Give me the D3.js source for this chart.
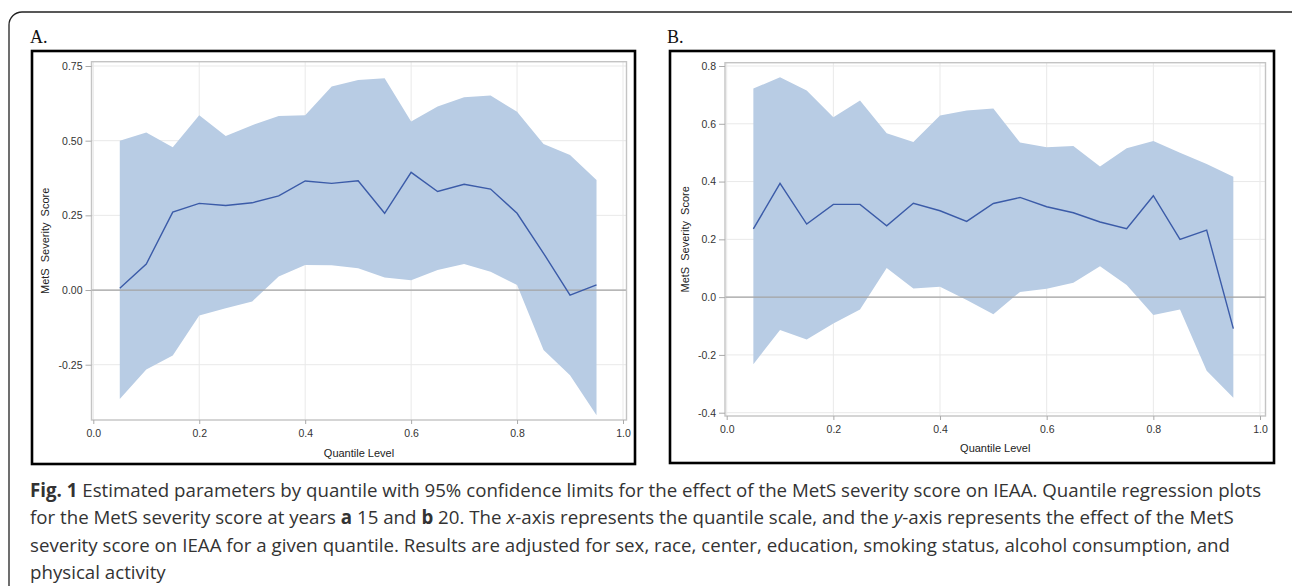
<!DOCTYPE html>
<html>
<head>
<meta charset="utf-8">
<script src="https://cdn.jsdelivr.net/npm/d3@7"></script>
<style>
  body { margin: 0; background: #fff; }
  svg { display: block; }
  .tick text { font-family: "Liberation Sans", Arial, sans-serif; font-size: 10.5px; fill: #333; }
  .axis-title { font-family: "Liberation Sans", Arial, sans-serif; font-size: 11px; fill: #222; white-space: pre; }
  .panel-label { font-family: "Liberation Serif", "Times New Roman", serif; font-size: 18px; fill: #111; }
  .caption { font-family: "Open Sans", sans-serif; font-size: 19px; fill: #333; }
</style>
</head>
<body>
<div id="chart"></div>
<script>
// quantile levels shared by both panels
var quantiles = [0.05, 0.10, 0.15, 0.20, 0.25, 0.30, 0.35, 0.40, 0.45, 0.50,
                 0.55, 0.60, 0.65, 0.70, 0.75, 0.80, 0.85, 0.90, 0.95];

// panel A (year 15)
var aEstimate = [0.006, 0.087, 0.261, 0.290, 0.283, 0.292, 0.315, 0.365, 0.357, 0.366,
                 0.257, 0.394, 0.330, 0.354, 0.338, 0.257, 0.123, -0.017, 0.017];
var aUpper    = [0.500, 0.527, 0.478, 0.585, 0.516, 0.552, 0.583, 0.585, 0.681, 0.703,
                 0.709, 0.564, 0.614, 0.645, 0.651, 0.597, 0.489, 0.452, 0.368];
var aLower    = [-0.365, -0.266, -0.219, -0.085, -0.061, -0.038, 0.045, 0.084, 0.083, 0.073,
                 0.042, 0.033, 0.067, 0.087, 0.061, 0.017, -0.201, -0.285, -0.419];

// panel B (year 20)
var bEstimate = [0.236, 0.394, 0.253, 0.321, 0.321, 0.247, 0.325, 0.299, 0.262, 0.324,
                 0.345, 0.313, 0.292, 0.260, 0.237, 0.351, 0.200, 0.232, -0.109];
var bUpper    = [0.722, 0.761, 0.715, 0.623, 0.681, 0.567, 0.537, 0.629, 0.646, 0.653,
                 0.535, 0.519, 0.523, 0.452, 0.515, 0.540, 0.500, 0.461, 0.417];
var bLower    = [-0.232, -0.114, -0.147, -0.091, -0.043, 0.101, 0.030, 0.036, -0.010, -0.059,
                 0.018, 0.029, 0.050, 0.107, 0.042, -0.062, -0.043, -0.255, -0.348];

var xTicks = [0, 0.2, 0.4, 0.6, 0.8, 1.0];
var aYTicks = [-0.25, 0, 0.25, 0.5, 0.75];
var bYTicks = [-0.4, -0.2, 0, 0.2, 0.4, 0.6, 0.8];

var width = 1292, height = 586;

// SAS prints a plain hyphen for negatives
function fmt(digits) {
    return function(d) { return d.toFixed(digits); };
}

var svg = d3.select("#chart").append("svg")
    .attr("width", width)
    .attr("height", height);

// outer rounded frame (runs off the right and bottom)
svg.append("rect")
    .attr("x", 9).attr("y", 12)
    .attr("width", 1300).attr("height", 620)
    .attr("rx", 13)
    .attr("fill", "none")
    .attr("stroke", "#222")
    .attr("stroke-width", 1.3);

var panels = [
    { label: "A.", lx: 30, box: [32, 51, 603, 413],
      xr: [93.3, 623], fx: [91.5, 626.5],
      yd: [-0.25, 0.75], yr: [364.7, 66], fy: [61.7, 420],
      yTicks: aYTicks, fmt: fmt(2),
      est: aEstimate, up: aUpper, lo: aLower,
      xLabelY: 457, ylx: 45 },
    { label: "B.", lx: 667, box: [670, 51, 604, 412],
      xr: [726.7, 1260], fx: [725, 1265.5],
      yd: [-0.4, 0.8], yr: [412.7, 66], fy: [62.7, 416],
      yTicks: bYTicks, fmt: fmt(1),
      est: bEstimate, up: bUpper, lo: bLower,
      xLabelY: 452, ylx: 685 }
];

panels.forEach(function(p) {
    var x = d3.scaleLinear().domain([0, 1]).range(p.xr);
    var y = d3.scaleLinear().domain(p.yd).range(p.yr);

    svg.append("text")
        .attr("class", "panel-label")
        .attr("x", p.lx).attr("y", 43)
        .text(p.label);

    var g = svg.append("g");

    // grid
    g.append("g").selectAll("line").data(xTicks).enter().append("line")
        .attr("x1", function(d) { return x(d); }).attr("x2", function(d) { return x(d); })
        .attr("y1", p.fy[0]).attr("y2", p.fy[1])
        .attr("stroke", "#e9e9e9");
    g.append("g").selectAll("line").data(p.yTicks).enter().append("line")
        .attr("x1", p.fx[0]).attr("x2", p.fx[1])
        .attr("y1", function(d) { return y(d); }).attr("y2", function(d) { return y(d); })
        .attr("stroke", "#e9e9e9");

    var rows = quantiles.map(function(q, i) {
        return { q: q, est: p.est[i], up: p.up[i], lo: p.lo[i] };
    });

    // confidence band
    g.append("path")
        .datum(rows)
        .attr("fill", "#b8cce4")
        .attr("d", d3.area()
            .x(function(d) { return x(d.q); })
            .y0(function(d) { return y(d.lo); })
            .y1(function(d) { return y(d.up); }));

    // reference line at zero
    g.append("line")
        .attr("x1", p.fx[0]).attr("x2", p.fx[1])
        .attr("y1", y(0)).attr("y2", y(0))
        .attr("stroke", "#a3a3a3")
        .attr("stroke-width", 1.2);

    // estimate
    g.append("path")
        .datum(rows)
        .attr("fill", "none")
        .attr("stroke", "#3b5ba8")
        .attr("stroke-width", 1.4)
        .attr("d", d3.line()
            .x(function(d) { return x(d.q); })
            .y(function(d) { return y(d.est); }));

    // plot frame
    g.append("rect")
        .attr("x", p.fx[0]).attr("y", p.fy[0])
        .attr("width", p.fx[1] - p.fx[0]).attr("height", p.fy[1] - p.fy[0])
        .attr("fill", "none")
        .attr("stroke", "#c4c4c4")
        .attr("stroke-width", 1.4);

    // axes
    var xAxis = g.append("g")
        .attr("transform", "translate(0," + p.fy[1] + ")")
        .call(d3.axisBottom(x).tickValues(xTicks).tickFormat(fmt(1)).tickSize(4).tickPadding(6));
    var yAxis = g.append("g")
        .attr("transform", "translate(" + p.fx[0] + ",0)")
        .call(d3.axisLeft(y).tickValues(p.yTicks).tickFormat(p.fmt).tickSize(6).tickPadding(3));
    [xAxis, yAxis].forEach(function(a) {
        a.select(".domain").remove();
        a.selectAll(".tick line").attr("stroke", "#aaa");
        a.attr("font-family", null).attr("font-size", null);
    });

    g.append("text")
        .attr("class", "axis-title")
        .attr("x", (p.fx[0] + p.fx[1]) / 2).attr("y", p.xLabelY)
        .attr("text-anchor", "middle")
        .text("Quantile Level");

    g.append("text")
        .attr("class", "axis-title")
        .attr("transform", "translate(" + p.ylx + "," + (p.fy[0] + p.fy[1]) / 2 + ") rotate(-90)")
        .attr("dy", "0.35em")
        .attr("text-anchor", "middle")
        .text("MetS  Severity  Score");

    // figure box
    svg.append("rect")
        .attr("x", p.box[0]).attr("y", p.box[1])
        .attr("width", p.box[2]).attr("height", p.box[3])
        .attr("fill", "none")
        .attr("stroke", "#000")
        .attr("stroke-width", 2.6);
});

// caption
var captionLines = [
    [["Fig. 1", "b"], [" Estimated parameters by quantile with 95% confidence limits for the effect of the MetS severity score on IEAA. Quantile regression plots", ""]],
    [["for the MetS severity score at years ", ""], ["a", "b"], [" 15 and ", ""], ["b", "b"], [" 20. The ", ""], ["x", "i"], ["-axis represents the quantile scale, and the ", ""], ["y", "i"], ["-axis represents the effect of the MetS", ""]],
    [["severity score on IEAA for a given quantile. Results are adjusted for sex, race, center, education, smoking status, alcohol consumption, and", ""]],
    [["physical activity", ""]]
];
var baselines = [497, 524.5, 552, 579.5];

var cap = svg.append("g");
var capNodes = captionLines.map(function(parts, i) {
    var t = cap.append("text")
        .attr("class", "caption")
        .attr("x", 0).attr("y", baselines[i]);
    parts.forEach(function(pt) {
        t.append("tspan")
            .attr("font-weight", pt[1] == "b" ? "bold" : null)
            .attr("font-style", pt[1] == "i" ? "italic" : null)
            .text(pt[0]);
    });
    return t;
});

// squeeze horizontally to the narrower face of the original (first line spans ~1232px)
var ratio = 1232 / capNodes[0].node().getComputedTextLength();
cap.attr("transform", "translate(30,0) scale(" + ratio + ",1)");
</script>
</body>
</html>
